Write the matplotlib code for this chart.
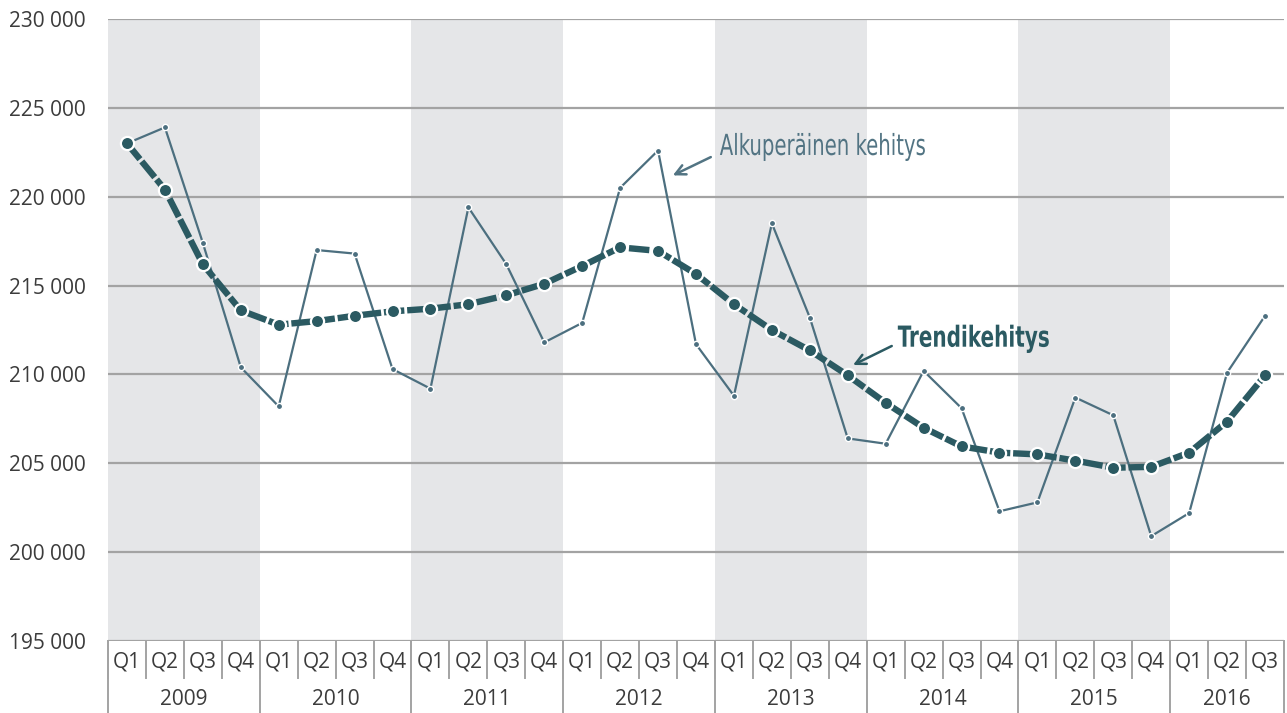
import matplotlib.pyplot as plt
import matplotlib.transforms as mtransforms
from matplotlib.textpath import TextPath
from matplotlib.patches import PathPatch
from matplotlib.font_manager import FontProperties
import numpy as np

years = ['2009', '2010', '2011', '2012', '2013', '2014', '2015', '2016']
quarters_per_year = [4, 4, 4, 4, 4, 4, 4, 3]
quarter_names = ['Q1', 'Q2', 'Q3', 'Q4']

original = [223000, 223900, 217400, 210400,
            208200, 217000, 216800, 210300,
            209200, 219400, 216200, 211800,
            212900, 220500, 222600, 211700,
            208800, 218500, 213200, 206400,
            206100, 210200, 208100, 202300,
            202800, 208700, 207700, 200900,
            202200, 210100, 213300]

trend = [223000, 220400, 216200, 213600,
         212800, 213000, 213300, 213550,
         213700, 213950, 214450, 215100,
         216100, 217150, 216950, 215650,
         213950, 212500, 211350, 209950,
         208400, 207000, 205950, 205600,
         205500, 205150, 204750, 204800,
         205600, 207350, 209950]

yticks = [195000, 200000, 205000, 210000, 215000, 220000, 225000, 230000]

c_trend = '#2b5a62'
c_orig = '#4c6f7f'
c_label = '#527483'
c_text = '#3c3c3c'
c_grid = '#a3a3a3'
c_band = '#e5e6e8'

tick_font = ['Open Sans', 'DejaVu Sans']

fig = plt.figure(figsize=(12.87, 7.13), dpi=100)
ax = fig.add_axes([108 / 1287, 72 / 713, 1176 / 1287, 622 / 713])

x = np.arange(len(original))
n = len(original)

# year bands
start = 0
for i, q in enumerate(quarters_per_year):
    if i % 2 == 0:
        ax.axvspan(start - 0.5, start + q - 0.5, color=c_band, lw=0, zorder=0)
    start += q

for v in yticks:
    ax.axhline(v, color=c_grid, lw=1.6, zorder=1)

ax.plot(x, original, color=c_orig, lw=1.6, marker='o', ms=4.5,
        mfc=c_orig, mec='white', mew=1.0, zorder=3)
ax.plot(x, trend, color=c_trend, lw=4.6, dashes=(3.2, 0.45), marker='o',
        ms=9.5, mfc=c_trend, mec='white', mew=1.6, zorder=4)

ax.set_xlim(-0.5, n - 0.5)
ax.set_ylim(195000, 230000)
ax.set_yticks(yticks)
ax.set_yticklabels([f'{v:,}'.replace(',', ' ') for v in yticks],
                   family=tick_font, fontsize=15, color=c_text)
ax.tick_params(axis='y', length=0, pad=16)
ax.set_xticks([])
for s in ax.spines.values():
    s.set_visible(False)

# category table under the axis
trans = mtransforms.blended_transform_factory(ax.transData, ax.transAxes)
for b in np.arange(n + 1) - 0.5:
    ax.plot([b, b], [0, -0.06], color=c_grid, lw=1.4, transform=trans, clip_on=False)
start = 0
for i, q in enumerate(quarters_per_year):
    for k in range(q):
        ax.text(start + k, -0.033, quarter_names[k], transform=trans,
                ha='center', va='center', family=tick_font, fontsize=15, color=c_text)
    ax.text(start + (q - 1) / 2, -0.094, years[i], transform=trans,
            ha='center', va='center', family=tick_font, fontsize=15, color=c_text)
    ax.plot([start - 0.5, start - 0.5], [0, -0.12], color=c_grid, lw=1.4,
            transform=trans, clip_on=False)
    start += q
ax.plot([start - 0.5, start - 0.5], [0, -0.12], color=c_grid, lw=1.4,
        transform=trans, clip_on=False)


def narrow_label(s, xd, yd, width, size, color, weight='normal'):
    # condensed label: text path squeezed to the given pixel width,
    # left edge / baseline at data point (xd, yd)
    fp = FontProperties(family='DejaVu Sans', stretch='condensed', weight=weight)
    tp = TextPath((0, 0), s, size=size, prop=fp)
    ext = tp.get_extents()
    sx = width / ext.width
    px, py = ax.transData.transform((xd, yd))
    tr = mtransforms.Affine2D().translate(-ext.x0, 0).scale(sx, 1).translate(px, py)
    ax.add_artist(PathPatch(tp, transform=tr, color=color, lw=0, zorder=6))


# annotations
narrow_label('Alkuperäinen kehitys', 15.63, 222350, 205, 29, c_label)
ax.annotate('', xy=(14.39, 221200), xytext=(15.39, 222230),
            arrowprops=dict(arrowstyle='->', color=c_label, lw=1.8,
                            shrinkA=0, shrinkB=0, mutation_scale=18))
narrow_label('Trendikehitys', 20.32, 211560, 151, 29, c_trend, weight='bold')
ax.annotate('', xy=(19.14, 210530), xytext=(20.16, 211600),
            arrowprops=dict(arrowstyle='->', color=c_trend, lw=1.8,
                            shrinkA=0, shrinkB=0, mutation_scale=18))

fig.savefig('out.png', dpi=100)
